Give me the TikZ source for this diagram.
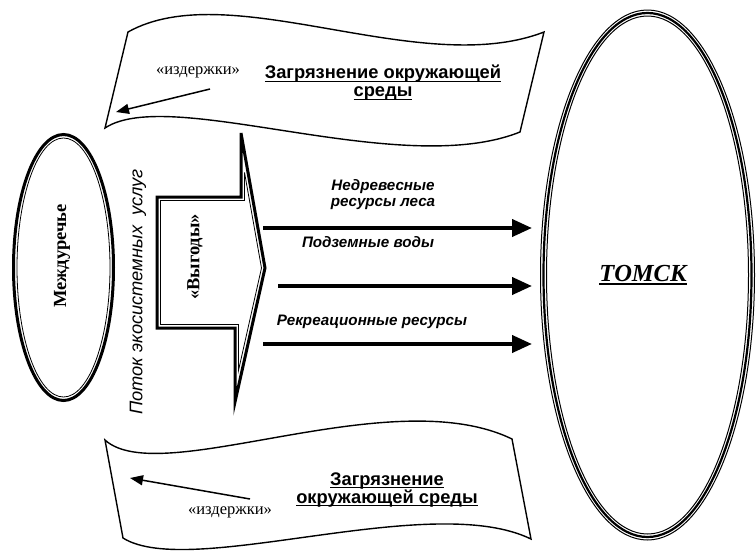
\documentclass[tikz,border=0pt]{standalone}
\usepackage{fontspec}
\setmainfont{Liberation Serif}
\setsansfont{Liberation Sans}
\usetikzlibrary{arrows.meta,shapes.geometric}

\newsavebox{\undrbox}
\newcommand{\undr}[1]{\sbox{\undrbox}{#1}\rlap{\rule[-3pt]{\wd\undrbox}{1.4pt}}\usebox{\undrbox}}

\tikzset{
  banner/.style={line width=1.4pt, line join=miter},
  flowarrow/.style={line width=4pt, -{Triangle[length=20pt,width=17pt]}},
  costarrow/.style={line width=1.5pt, -{Triangle[length=13pt,width=10pt]}},
  flowlabel/.style={font=\sffamily\bfseries\itshape\fontsize{15.2}{16}\selectfont, align=center},
  titlelabel/.style={font=\sffamily\bfseries\fontsize{18.3}{18}\selectfont, align=center},
  costlabel/.style={font=\fontsize{16.5}{18}\selectfont},
  sidelabel/.style={font=\bfseries\fontsize{18.5}{20}\selectfont, rotate=90}
}

\begin{document}
\begin{tikzpicture}[x=1pt,y=-1pt]
  \useasboundingbox (0,0) rectangle (756,555);
  % Banners
  \draw[banner] (128,32) .. controls (230,-25) and (420,80) .. (544,32) -- (520,132)
    .. controls (400,180) and (170,85) .. (105,128) -- cycle;
  \draw[banner] (105,440) .. controls (160,490) and (390,380) .. (512,439) -- (531,539)
    .. controls (430,490) and (190,580) .. (123,538) -- cycle;
  % Top banner texts
  \node[costlabel] (costtop) at (198,72) {«издержки»};
  \node[titlelabel] (polltop) at (383,83) {\undr{Загрязнение окружающей}\\\undr{среды}};
  \coordinate (ctops) at (210,89);
  \coordinate (ctope) at (116,112);
  \draw[costarrow] (ctops) -- (ctope);
  % Bottom banner texts
  \node[titlelabel] (pollbot) at (387,490) {\undr{Загрязнение}\\\undr{окружающей среды}};
  \node[costlabel] (costbot) at (230,512) {«издержки»};
  \coordinate (cbots) at (250,499);
  \coordinate (cbote) at (130,478);
  \draw[costarrow] (cbots) -- (cbote);
  % Left ellipse
  \node[ellipse, draw, line width=3pt, minimum width=100pt, minimum height=266pt] (mezh) at (63.5,267.5) {};
  \draw[line width=0.8pt] (mezh.center) ellipse [x radius=46.5, y radius=129.5];
  \node[sidelabel] (mezhtext) at (62,256) {Междуречье};
  % Big arrow
  \draw[line width=3pt, line join=miter] (157,197) -- (241,197) -- (241,133) -- (265,268)
    -- (235,402) -- (235,328) -- (157,328) -- cycle;
  \draw[line width=0.8pt] (160.5,200.5) -- (244.5,200.5) -- (244.5,172.4) -- (261.5,268)
    -- (238.5,370.4) -- (238.5,324.5) -- (160.5,324.5) -- cycle;
  \node[sidelabel] (benefit) at (195,257) {«Выгоды»};
  \node[font=\sffamily\itshape\fontsize{18.3}{20}\selectfont, rotate=90] (flow) at (138,292) {Поток экосистемных\ \ услуг};
  % Right ellipse
  \node[ellipse, draw, line width=1pt, minimum width=214pt, minimum height=530pt] (tomsk) at (647.5,275) {};
  \draw[line width=2.2pt] (tomsk.center) ellipse [x radius=104, y radius=262];
  \draw[line width=1pt] (tomsk.center) ellipse [x radius=101, y radius=259];
  \node[font=\bfseries\itshape\fontsize{24.5}{26}\selectfont] (tomsktext) at (643,275) {\undr{ТОМСК}};
  % Resource flows
  \coordinate (r1s) at (263,228);
  \coordinate (r1e) at (532,228);
  \coordinate (r2s) at (278,286);
  \coordinate (r2e) at (532,286);
  \coordinate (r3s) at (263,344);
  \coordinate (r3e) at (532,344);
  \draw[flowarrow] (r1s) -- (r1e);
  \draw[flowarrow] (r2s) -- (r2e);
  \draw[flowarrow] (r3s) -- (r3e);
  \node[flowlabel] (lab1) at (383,195) {Недревесные\\ресурсы леса};
  \node[flowlabel] (lab2) at (368,242) {Подземные воды};
  \node[flowlabel] (lab3) at (372,322) {Рекреационные ресурсы};
\end{tikzpicture}
\end{document}
